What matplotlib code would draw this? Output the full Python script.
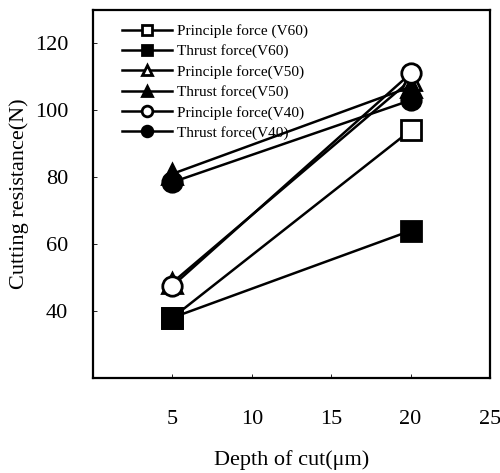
import matplotlib
matplotlib.use("Agg")
import matplotlib.pyplot as plt

plt.rcParams['font.family'] = ['Liberation Serif', 'DejaVu Serif']

depth = [5, 20]
labels = ["Principle force (V60)", "Thrust force(V60)", "Principle force(V50)",
          "Thrust force(V50)", "Principle force(V40)", "Thrust force(V40)"]
v60_principle = [38, 94]
v60_thrust = [38, 64]
v50_principle = [48.5, 109]
v50_thrust = [81, 107]
v40_principle = [47.5, 111]
v40_thrust = [78.5, 103]
x_ticks = [5, 10, 15, 20, 25]
y_ticks = [40, 60, 80, 100, 120]

series = [v60_principle, v60_thrust, v50_principle, v50_thrust, v40_principle, v40_thrust]
markers = ['s', 's', '^', '^', 'o', 'o']
fills = ['white', 'black', 'white', 'black', 'white', 'black']

fig = plt.figure(figsize=(5.0, 4.73), dpi=100)
ax = fig.add_axes([0.186, 0.201, 0.794, 0.778])

for vals, m, fc, lab in zip(series, markers, fills, labels):
    ax.plot(depth, vals, color='black', lw=1.8, marker=m, markersize=14,
            markerfacecolor=fc, markeredgecolor='black', markeredgewidth=2,
            label=lab)

ax.set_xlim(0, 25)
ax.set_ylim(20, 130)
ax.set_xticks(x_ticks)
ax.set_yticks(y_ticks)
ax.tick_params(direction='in', length=3, width=0.6, labelsize=16)
ax.tick_params(axis='x', pad=23)
ax.tick_params(axis='y', pad=18)
for s in ax.spines.values():
    s.set_linewidth(1.6)

ax.set_xlabel("Depth of cut(\u03bcm)", fontsize=16, labelpad=15)
ax.set_ylabel("Cutting resistance(N)", fontsize=16, labelpad=4)

leg = ax.legend(loc='upper left', bbox_to_anchor=(0.057, 0.978), frameon=False,
                fontsize=11, handlelength=3.3, handletextpad=0.3,
                labelspacing=0.42, markerscale=0.55, borderaxespad=0.0)

fig.savefig("out.png", dpi=100)
